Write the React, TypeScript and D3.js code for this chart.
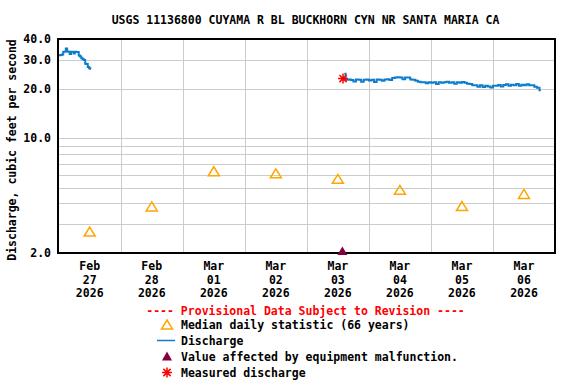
import React from 'react';
import * as d3 from 'd3';

const width = 576;
const height = 384;
const margin = { top: 39, right: 21, bottom: 131, left: 58 };

// daily median statistic (66 years), plotted at noon
const medianDays = ['2026-02-27', '2026-02-28', '2026-03-01', '2026-03-02', '2026-03-03', '2026-03-04', '2026-03-05', '2026-03-06'];
const medianValues = [2.7, 3.84, 6.28, 6.1, 5.65, 4.84, 3.86, 4.57];

// discharge, first piece: every 30 minutes from Feb 27 00:00
const dischargeStart1 = '2026-02-27T00:00:00Z';
const dischargeValues1 = [
  31.9, 31.9, 32.0, 32.2, 33.5, 33.5, 35.0, 33.6, 33.5, 32.4, 33.5, 33.5, 32.6,
  33.5, 33.4, 33.4, 31.8, 31.3, 30.6, 30.1, 29.8, 28.3, 28.2, 27.0, 26.6, 26.4,
];

// discharge, second piece: hourly from Mar 03 14:30
const dischargeStart2 = '2026-03-03T14:30:00Z';
const dischargeValues2 = [
  24.6, 22.6, 22.7, 22.5, 22.1, 22.7, 22.6, 22.0, 22.6, 22.7, 22.4, 22.6, 21.9,
  22.7, 22.6, 22.3, 22.7, 22.8, 22.5, 23.2, 23.3, 23.4, 23.3, 22.8, 23.3, 23.3,
  22.7, 22.6, 22.3, 22.0, 21.8, 21.8, 21.5, 21.8, 21.7, 21.8, 21.3, 21.8, 21.7,
  21.8, 22.0, 21.7, 21.8, 21.4, 21.8, 21.7, 21.9, 21.7, 21.4, 21.3, 20.9, 20.9,
  20.5, 20.9, 20.4, 20.8, 20.6, 20.3, 20.8, 20.8, 21.0, 20.6, 21.0, 21.2, 20.8,
  21.1, 20.9, 21.3, 20.8, 21.1, 20.9, 21.2, 20.9, 20.9, 20.5, 20.2, 19.5,
];

const measuredTime = '2026-03-03T14:00:00Z';
const measuredValue = 23.0;
const malfunctionTime = '2026-03-03T13:45:00Z';
const malfunctionValue = 2.0;

const yTickLabels = [2, 10, 20, 30, 40];
const yGridValues = [3, 4, 5, 6, 7, 8, 9, 10, 20, 30];

const legendItems = [
  'Median daily statistic (66 years)',
  'Discharge',
  'Value affected by equipment malfunction.',
  'Measured discharge',
];

const fontFamily = '"DejaVu Sans Mono", monospace';
const blue = '#0c7dca';
const orange = '#ffa500';
const maroon = '#800040';

const series = (start: string, values: number[], stepMin: number) => {
  const t0 = new Date(start).getTime();
  return values.map((v, i) => ({ t: new Date(t0 + i * stepMin * 60000), v }));
};

const triPath = 'M0,-4.5L5.5,4.5L-5.5,4.5Z';
const starPath = 'M-5,0H5M0,-5V5M-3.6,-3.6L3.6,3.6M-3.6,3.6L3.6,-3.6';

const App = () => {
  const x0 = margin.left;
  const x1 = width - margin.right;
  const y0 = margin.top;
  const y1 = height - margin.bottom;

  const x = d3.scaleUtc()
    .domain([new Date('2026-02-27T00:00:00Z'), new Date('2026-03-07T00:00:00Z')])
    .range([x0 + 0.7, x1]);
  const y = d3.scaleLog().domain([2, 40]).range([y1, y0]);

  const line = d3.line<{ t: Date; v: number }>()
    .x(d => x(d.t))
    .y(d => y(d.v))
    .curve(d3.curveStep);

  const seg1 = series(dischargeStart1, dischargeValues1, 30);
  const seg2 = series(dischargeStart2, dischargeValues2, 60);

  const days = medianDays.map(d => new Date(d + 'T12:00:00Z'));
  const midnights = d3.utcDay.range(new Date('2026-02-28T00:00:00Z'), new Date('2026-03-07T00:00:00Z'));
  const fmtMon = d3.utcFormat('%b');
  const fmtDay = d3.utcFormat('%d');
  const fmtYear = d3.utcFormat('%Y');

  const legendX = 167;
  const legendY0 = 324.5;
  const legendStep = 16;

  return (
    <svg width={width} height={height} style={{ position: 'absolute', left: 0, top: 0, background: '#fff' }}
      fontFamily={fontFamily} fontWeight="bold" fontSize={11.5}>
      <rect width={width} height={height} fill="#fff" />
      <text x={305.5} y={20} textAnchor="middle" dominantBaseline="central">
        USGS 11136800 CUYAMA R BL BUCKHORN CYN NR SANTA MARIA CA
      </text>

      {/* grid */}
      <g stroke="#cccccc" strokeWidth={1}>
        {yGridValues.map(v => (
          <line key={v} x1={x0} x2={x1} y1={Math.round(y(v)) + 0.5} y2={Math.round(y(v)) + 0.5} />
        ))}
        {midnights.map(d => (
          <line key={+d} x1={Math.round(x(d)) + 0.5} x2={Math.round(x(d)) + 0.5} y1={y0} y2={y1} />
        ))}
      </g>

      {/* discharge */}
      <g fill="none" stroke={blue} strokeWidth={2}>
        <path d={line(seg1) || ''} />
        <path d={line(seg2) || ''} />
      </g>

      {/* median */}
      {medianValues.map((v, i) => (
        <path key={i} d={triPath} transform={`translate(${x(days[i])},${y(v)})`}
          fill="none" stroke={orange} strokeWidth={1.5} />
      ))}

      {/* frame */}
      <rect x={x0} y={y0} width={x1 - x0} height={y1 - y0} fill="none" stroke="#000" strokeWidth={2} />

      {/* malfunction */}
      <path d="M0,-6.5L5,2L-5,2Z" transform={`translate(${x(new Date(malfunctionTime))},${y(malfunctionValue)})`}
        fill={maroon} />

      {/* measured */}
      <path d={starPath} transform={`translate(${x(new Date(measuredTime))},${y(measuredValue)})`}
        stroke="#ff0000" strokeWidth={1.5} fill="none" />

      {/* y ticks */}
      {yTickLabels.map(v => (
        <text key={v} x={51} y={y(v)} textAnchor="end" dominantBaseline="central">{v.toFixed(1)}</text>
      ))}
      <text transform={`translate(12,150) rotate(-90)`} textAnchor="middle" dominantBaseline="central">
        Discharge, cubic feet per second
      </text>

      {/* x labels */}
      {days.map((d, i) => (
        <g key={i} textAnchor="middle">
          <text x={x(d)} y={266} dominantBaseline="central">{fmtMon(d)}</text>
          <text x={x(d)} y={279.5} dominantBaseline="central">{fmtDay(d)}</text>
          <text x={x(d)} y={292.5} dominantBaseline="central">{fmtYear(d)}</text>
        </g>
      ))}

      {/* legend */}
      <text x={305.5} y={311} textAnchor="middle" dominantBaseline="central" fill="#ff0000">
        ---- Provisional Data Subject to Revision ----
      </text>
      <path d={triPath} transform={`translate(${legendX},${legendY0})`} fill="none" stroke={orange} strokeWidth={1.5} />
      <line x1={157} x2={175} y1={legendY0 + legendStep} y2={legendY0 + legendStep} stroke={blue} strokeWidth={1.5} />
      <path d="M0,-5L5,4L-5,4Z" transform={`translate(${legendX},${legendY0 + legendStep * 2})`} fill={maroon} />
      <path d={starPath} transform={`translate(${legendX},${legendY0 + legendStep * 3})`} stroke="#ff0000" strokeWidth={1.5} fill="none" />
      {legendItems.map((t, i) => (
        <text key={t} x={181} y={legendY0 + i * legendStep} dominantBaseline="central">{t}</text>
      ))}
    </svg>
  );
};

export default App;
